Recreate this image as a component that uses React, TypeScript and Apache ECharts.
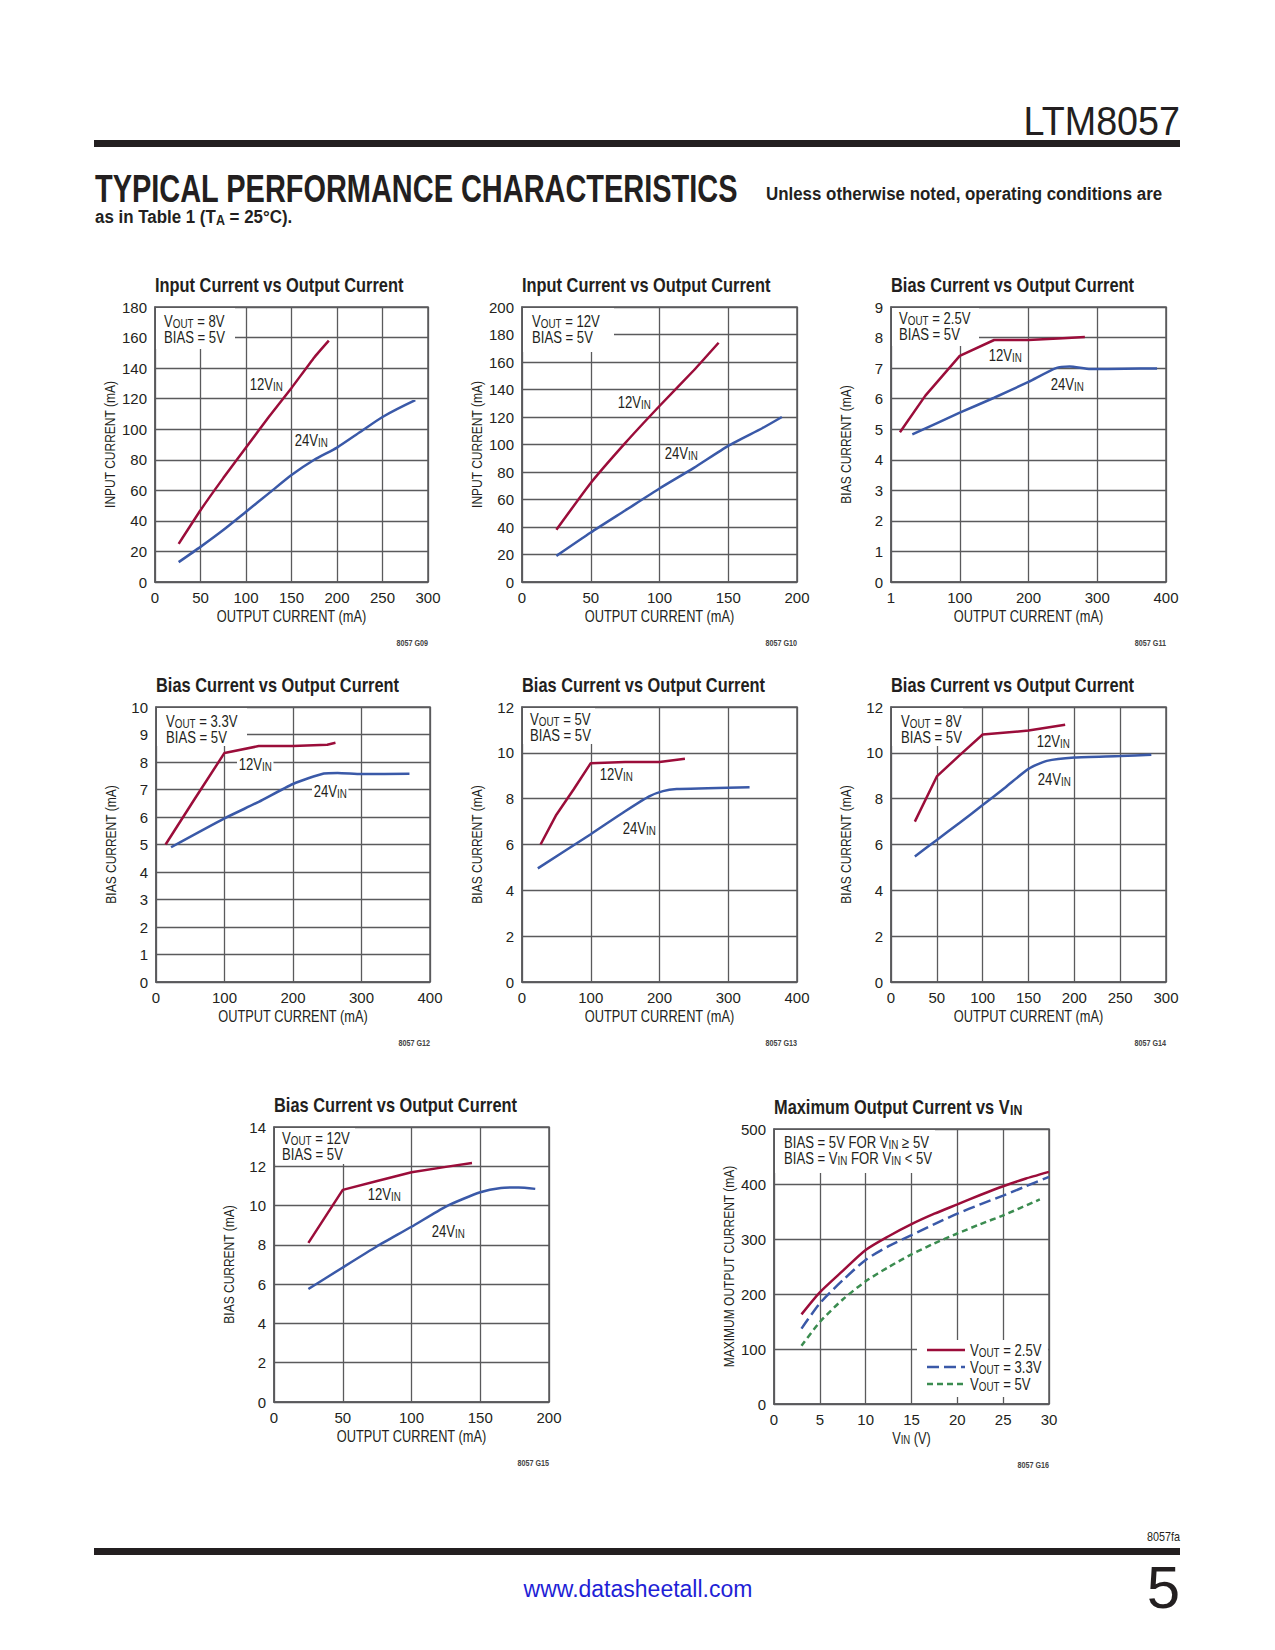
import React, { useEffect, useRef } from 'react';
import * as echarts from 'echarts';

const WIDE = "'Liberation Sans', Arial, Helvetica, sans-serif";
const INK = '#231f20';
const GRIDC = '#5a5a5c';
const RED = '#9b0d3a';
const BLUE = '#3a59a8';
const GREEN = '#3b8c50';
const NARROW = 0.82;

// ---- G09: input current vs output current, VOUT = 8V ----
const g09In12 = [[26, 25], [50, 47], [75, 68], [100, 88], [125, 108], [150, 127], [175, 147], [191, 158]];
const g09In24 = [[26, 13], [50, 23], [75, 34], [100, 46], [125, 58], [150, 70], [175, 80], [200, 88], [225, 98], [250, 108], [286, 119]];
// ---- G10: input current vs output current, VOUT = 12V ----
const g10In12 = [[25, 38], [50, 72], [75, 101], [100, 128], [125, 154], [143, 174]];
const g10In24 = [[25, 19], [50, 36], [75, 52], [100, 68], [125, 83], [150, 99], [175, 112], [189, 120]];
// ---- G11: bias current, VOUT = 2.5V ----
const g11Bias12 = [[13, 4.9], [50, 6.1], [100, 7.4], [150, 7.92], [200, 7.92], [250, 7.98], [282, 8.02]];
const g11Bias24 = [[31, 4.83], [100, 5.54], [150, 6.03], [200, 6.55], [240, 7.0], [260, 7.05], [290, 6.97], [340, 6.98], [387, 6.99]];
// ---- G12: bias current, VOUT = 3.3V ----
const g12Bias12 = [[14, 5.0], [55, 6.6], [100, 8.33], [150, 8.58], [200, 8.58], [250, 8.63], [262, 8.7]];
const g12Bias24 = [[22, 4.9], [100, 5.95], [150, 6.55], [200, 7.2], [245, 7.58], [265, 7.6], [300, 7.56], [370, 7.57]];
// ---- G13: bias current, VOUT = 5V ----
const g13Bias12 = [[27, 6.0], [50, 7.3], [75, 8.4], [100, 9.55], [150, 9.6], [200, 9.6], [237, 9.74]];
const g13Bias24 = [[23, 4.96], [100, 6.45], [150, 7.45], [185, 8.1], [205, 8.33], [225, 8.42], [270, 8.45], [331, 8.5]];
// ---- G14: bias current, VOUT = 8V ----
const g14Bias12 = [[26, 7.0], [50, 8.97], [75, 9.9], [100, 10.8], [150, 10.97], [190, 11.23]];
const g14Bias24 = [[26, 5.48], [50, 6.2], [75, 6.95], [100, 7.72], [125, 8.5], [150, 9.3], [170, 9.65], [200, 9.8], [250, 9.86], [284, 9.92]];
// ---- G15: bias current, VOUT = 12V ----
const g15Bias12 = [[25, 8.1], [50, 10.8], [75, 11.25], [100, 11.7], [125, 11.97], [144, 12.17]];
const g15Bias24 = [[25, 5.75], [50, 6.85], [75, 7.93], [100, 8.92], [125, 9.95], [150, 10.68], [165, 10.9], [178, 10.92], [190, 10.85]];
// ---- G16: maximum output current vs VIN ----
const g16Vin = [3, 5, 7.5, 10, 12.5, 15, 17.5, 20, 22.5, 25, 27.5, 30];
const g16Vout25 = [163, 203, 242, 280, 305, 327, 346, 363, 380, 396, 410, 422];
const g16Vout33 = [137, 183, 225, 262, 287, 307, 327, 346, 363, 379, 396, 413];
const g16VinFor5 = [3, 5, 7.5, 10, 12.5, 15, 17.5, 20, 22.5, 25, 29];
const g16Vout5 = [106, 149, 190, 223, 249, 272, 292, 310, 327, 343, 372];

const OUT_NAME = 'OUTPUT CURRENT (mA)';
const vout = (v: string) => [`{n|V}{s|OUT}{n| = ${v}}`, '{n|BIAS = 5V}'];
const VIN12 = '{n|12V}{s|IN}';
const VIN24 = '{n|24V}{s|IN}';

const panels: any[] = [
  {
    code: '8057 G09', title: 'Input Current vs Output Current', left: 155, top: 307, width: 273, height: 275,
    xMax: 300, xStep: 50, yMax: 180, yStep: 20, yName: 'INPUT CURRENT (mA)',
    note: vout('8V'), noteDx: 9, noteY: 15, box: [79, 41],
    curves: [{ data: g09In12, color: RED, smooth: 0.15 }, { data: g09In24, color: BLUE, smooth: 0.2 }],
    labels: [{ t: VIN12, x: 248, y: 385 }, { t: VIN24, x: 293, y: 441 }],
  },
  {
    code: '8057 G10', title: 'Input Current vs Output Current', left: 522, top: 307, width: 275, height: 275,
    xMax: 200, xStep: 50, yMax: 200, yStep: 20, yName: 'INPUT CURRENT (mA)',
    note: vout('12V'), noteDx: 10, noteY: 15, box: [91, 44],
    curves: [{ data: g10In12, color: RED, smooth: 0.15 }, { data: g10In24, color: BLUE, smooth: 0.2 }],
    labels: [{ t: VIN12, x: 616, y: 403 }, { t: VIN24, x: 663, y: 454 }],
  },
  {
    code: '8057 G11', title: 'Bias Current vs Output Current', left: 891, top: 307, width: 275, height: 275,
    xMax: 400, xStep: 100, yMax: 9, yStep: 1, yName: 'BIAS CURRENT (mA)', firstX: '1',
    note: vout('2.5V'), noteDx: 8, noteY: 12, box: [87, 38],
    curves: [{ data: g11Bias12, color: RED, smooth: 0 }, { data: g11Bias24, color: BLUE, smooth: 0.2 }],
    labels: [{ t: VIN12, x: 987, y: 356 }, { t: VIN24, x: 1049, y: 385 }],
  },
  {
    code: '8057 G12', title: 'Bias Current vs Output Current', left: 156, top: 707, width: 274, height: 275,
    xMax: 400, xStep: 100, yMax: 10, yStep: 1, yName: 'BIAS CURRENT (mA)',
    note: vout('3.3V'), noteDx: 10, noteY: 15, box: [90, 38],
    curves: [{ data: g12Bias12, color: RED, smooth: 0 }, { data: g12Bias24, color: BLUE, smooth: 0.2 }],
    labels: [{ t: VIN12, x: 237, y: 765 }, { t: VIN24, x: 312, y: 792 }],
  },
  {
    code: '8057 G13', title: 'Bias Current vs Output Current', left: 522, top: 707, width: 275, height: 275,
    xMax: 400, xStep: 100, yMax: 12, yStep: 2, yName: 'BIAS CURRENT (mA)',
    note: vout('5V'), noteDx: 8, noteY: 13, box: [72, 36],
    curves: [{ data: g13Bias12, color: RED, smooth: 0 }, { data: g13Bias24, color: BLUE, smooth: 0.2 }],
    labels: [{ t: VIN12, x: 598, y: 775 }, { t: VIN24, x: 621, y: 829 }],
  },
  {
    code: '8057 G14', title: 'Bias Current vs Output Current', left: 891, top: 707, width: 275, height: 275,
    xMax: 300, xStep: 50, yMax: 12, yStep: 2, yName: 'BIAS CURRENT (mA)',
    note: vout('8V'), noteDx: 10, noteY: 15, box: [71, 38],
    curves: [{ data: g14Bias12, color: RED, smooth: 0 }, { data: g14Bias24, color: BLUE, smooth: 0.2 }],
    labels: [{ t: VIN12, x: 1035, y: 742 }, { t: VIN24, x: 1036, y: 780 }],
  },
  {
    code: '8057 G15', title: 'Bias Current vs Output Current', left: 274, top: 1127, width: 275, height: 275,
    xMax: 200, xStep: 50, yMax: 14, yStep: 2, yName: 'BIAS CURRENT (mA)',
    note: vout('12V'), noteDx: 8, noteY: 12, box: [80, 36],
    curves: [{ data: g15Bias12, color: RED, smooth: 0 }, { data: g15Bias24, color: BLUE, smooth: 0.2 }],
    labels: [{ t: VIN12, x: 366, y: 1195 }, { t: VIN24, x: 430, y: 1232 }],
  },
  {
    code: '8057 G16', title: '{t|Maximum Output Current vs V}{ts|IN}', left: 774, top: 1129, width: 275, height: 275,
    xMax: 30, xStep: 5, yMax: 500, yStep: 100, yName: 'MAXIMUM OUTPUT CURRENT (mA)', xName: '{n|V}{s|IN}{n| (V)}',
    note: ['{n|BIAS = 5V FOR V}{s|IN}{n| ≥ 5V}', '{n|BIAS = V}{s|IN}{n| FOR V}{s|IN}{n| < 5V}'], noteDx: 10, noteY: 14, box: [160, 43],
    curves: [
      { data: g16Vin.map((v, k) => [v, g16Vout25[k]]), color: RED, smooth: 0.25 },
      { data: g16Vin.map((v, k) => [v, g16Vout33[k]]), color: BLUE, smooth: 0.25, dash: [12, 5] },
      { data: g16VinFor5.map((v, k) => [v, g16Vout5[k]]), color: GREEN, smooth: 0.25, dash: [6, 4] },
    ],
    labels: [],
  },
];

const richN = {
  n: { fontSize: 16, fontFamily: WIDE, lineHeight: 16 },
  s: { fontSize: 12, fontFamily: WIDE, lineHeight: 8, verticalAlign: 'bottom' },
  t: { fontSize: 20, fontFamily: WIDE, fontWeight: 'bold', lineHeight: 22 },
  ts: { fontSize: 15, fontFamily: WIDE, fontWeight: 'bold', lineHeight: 12, verticalAlign: 'bottom' },
  h: { fontSize: 19, fontFamily: WIDE, fontWeight: 'bold', lineHeight: 20 },
  hs: { fontSize: 14, fontFamily: WIDE, fontWeight: 'bold', lineHeight: 11, verticalAlign: 'bottom' },
};

function text(x: number, y: number, t: string, o: any = {}) {
  const align = o.align || 'left';
  const va = o.va || 'middle';
  return {
    type: 'text', x, y, z: o.z ?? 10, rotation: o.rotation || 0,
    scaleX: o.scaleX ?? NARROW, scaleY: o.scaleY ?? 1,
    style: {
      text: t, fill: o.fill || INK,
      fontSize: o.fontSize || 16, fontFamily: o.fontFamily || WIDE, fontWeight: o.fontWeight || 'normal',
      align, textAlign: align, verticalAlign: va, textVerticalAlign: va,
      rich: richN,
      backgroundColor: o.bg, padding: o.pad,
    },
  };
}

function buildOption() {
  const grid: any[] = [];
  const xAxis: any[] = [];
  const yAxis: any[] = [];
  const series: any[] = [];
  const graphic: any[] = [];

  panels.forEach((p, i) => {
    grid.push({
      left: p.left, top: p.top, width: p.width, height: p.height, show: true,
      borderColor: GRIDC, borderWidth: 1.5, backgroundColor: 'transparent', containLabel: false,
    });
    const axisCommon = {
      type: 'value', gridIndex: i, min: 0,
      axisLine: { show: true, onZero: false, lineStyle: { color: GRIDC, width: 1.5 } },
      axisTick: { show: false },
      splitLine: { show: true, lineStyle: { color: GRIDC, width: 1.3 } },
    };
    xAxis.push({
      ...axisCommon, max: p.xMax, interval: p.xStep,
      axisLabel: {
        color: INK, fontSize: 15, fontFamily: WIDE, margin: 8,
        formatter: (v: number) => (v === 0 && p.firstX ? p.firstX : String(v)),
      },
    });
    yAxis.push({
      ...axisCommon, max: p.yMax, interval: p.yStep,
      axisLabel: { color: INK, fontSize: 15, fontFamily: WIDE, margin: 8 },
    });
    p.curves.forEach((c: any) => {
      series.push({
        type: 'line', xAxisIndex: i, yAxisIndex: i, data: c.data, symbol: 'none', showSymbol: false,
        smooth: c.smooth, silent: true, z: 3,
        lineStyle: { color: c.color, width: 2.5, type: c.dash || 'solid', cap: 'butt' },
      });
    });

    // note box (white) and note text
    graphic.push({
      type: 'rect', z: 1,
      shape: { x: p.left + 1, y: p.top + 1, width: p.box[0], height: p.box[1] },
      style: { fill: '#ffffff' },
    });
    p.note.forEach((line: string, k: number) => {
      graphic.push(text(p.left + p.noteDx, p.top + p.noteY + k * 16, line));
    });
    p.labels.forEach((l: any) => {
      graphic.push(text(l.x, l.y, l.t, { bg: '#ffffff', pad: [0, 2] }));
    });
    // title
    graphic.push(text(p.left, p.top - 22, p.title.startsWith('{') ? p.title : `{t|${p.title}}`));
    // axis names
    const xn = p.xName || OUT_NAME;
    graphic.push(text(p.left + p.width / 2, p.top + p.height + 34, xn.startsWith('{') ? xn : `{n|${xn}}`,
      { align: 'center', scaleX: 0.8 }));
    graphic.push(text(p.left - 45, p.top + p.height / 2, p.yName,
      { align: 'center', rotation: Math.PI / 2, fontSize: 15, scaleX: 0.8 }));
    // figure code
    graphic.push(text(p.left + p.width, p.top + p.height + 61, p.code,
      { align: 'right', fontSize: 9, fill: '#444', fontWeight: 'bold', scaleX: 0.8 }));
  });

  // G16 legend
  const lg = panels[7];
  graphic.push({
    type: 'rect', z: 1, shape: { x: 917, y: 1340, width: lg.left + lg.width - 918, height: 57 },
    style: { fill: '#ffffff' },
  });
  const legendItems = [
    { c: RED, d: null, t: '{n|V}{s|OUT}{n| = 2.5V}' },
    { c: BLUE, d: [12, 5], t: '{n|V}{s|OUT}{n| = 3.3V}' },
    { c: GREEN, d: [6, 4], t: '{n|V}{s|OUT}{n| = 5V}' },
  ];
  legendItems.forEach((it, k) => {
    const y = 1350 + k * 17;
    graphic.push({
      type: 'line', z: 10, shape: { x1: 927, y1: y, x2: 965, y2: y },
      style: { stroke: it.c, lineWidth: 2.5, lineDash: it.d || undefined },
    });
    graphic.push(text(970, y + 1, it.t));
  });

  // page header
  graphic.push(text(1180, 120, 'LTM8057', { align: 'right', fontSize: 41, scaleX: 0.92 }));
  graphic.push({ type: 'rect', z: 10, shape: { x: 94, y: 140, width: 1086, height: 7 }, style: { fill: INK } });
  graphic.push(text(95, 188, 'TYPICAL PERFORMANCE CHARACTERISTICS',
    { fontSize: 33, fontWeight: 'bold', scaleX: 0.877, scaleY: 1.19 }));
  graphic.push(text(766, 194, 'Unless otherwise noted, operating conditions are',
    { fontSize: 19, fontWeight: 'bold', scaleX: 0.89 }));
  graphic.push(text(95, 217, '{h|as in Table 1 (T}{hs|A}{h| = 25°C).}', { scaleX: 0.89 }));

  // page footer
  graphic.push(text(1180, 1537, '8057fa', { align: 'right', fontSize: 12, scaleX: 0.9 }));
  graphic.push({ type: 'rect', z: 10, shape: { x: 94, y: 1548, width: 1086, height: 7 }, style: { fill: INK } });
  graphic.push(text(638, 1589, 'www.datasheetall.com', { align: 'center', fontSize: 23, fill: '#1f1fd6', scaleX: 1 }));
  graphic.push(text(1180, 1587, '5', { align: 'right', fontSize: 60, scaleX: 1 }));

  return {
    animation: false,
    backgroundColor: '#ffffff',
    textStyle: { fontFamily: WIDE },
    grid, xAxis, yAxis, series, graphic,
  };
}

export default function App() {
  const ref = useRef<HTMLDivElement>(null);
  useEffect(() => {
    if (!ref.current) return;
    const chart = echarts.init(ref.current, null, { renderer: 'svg', width: 1275, height: 1650 });
    chart.setOption(buildOption() as any);
    return () => chart.dispose();
  }, []);
  return (
    <div
      ref={ref}
      style={{ position: 'absolute', left: 0, top: 0, width: 1275, height: 1650, background: '#fff' }}
    />
  );
}
